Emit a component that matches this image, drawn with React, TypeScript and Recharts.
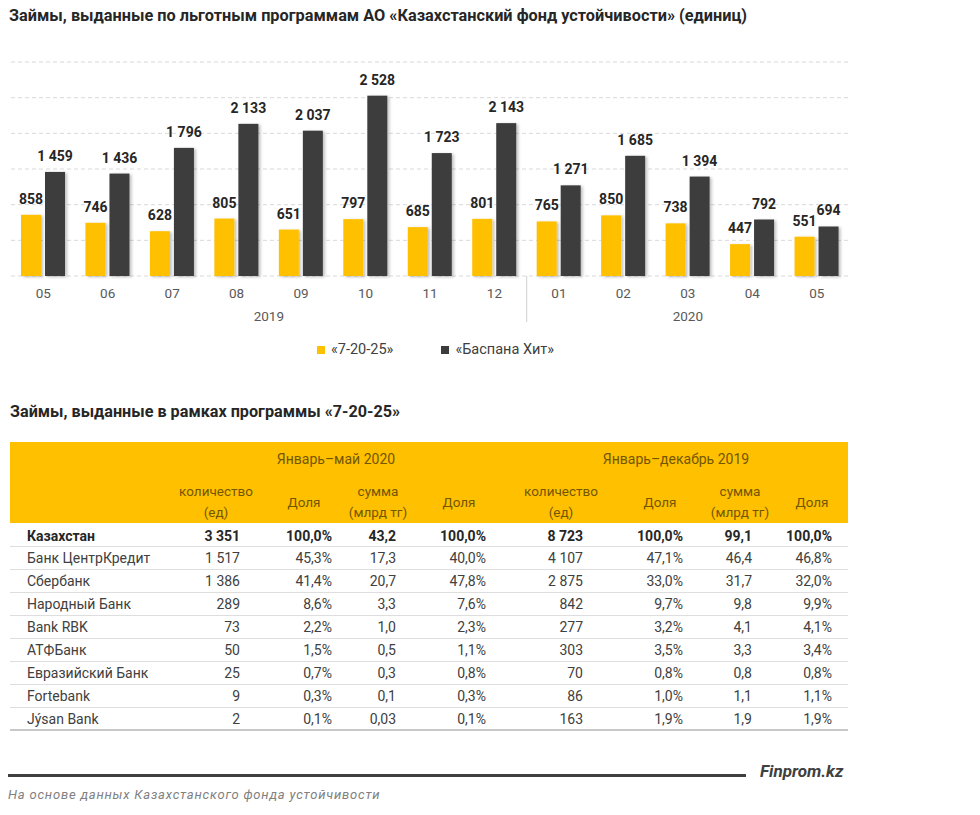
import { BarChart, Bar, XAxis, YAxis, CartesianGrid, LabelList } from "recharts";

const months = ["05", "06", "07", "08", "09", "10", "11", "12", "01", "02", "03", "04", "05"];
const monthYears = ["2019", "2019", "2019", "2019", "2019", "2019", "2019", "2019", "2020", "2020", "2020", "2020", "2020"];
const program72025 = [858, 746, 628, 805, 651, 797, 685, 801, 765, 850, 738, 447, 551];
const baspanaHit = [1459, 1436, 1796, 2133, 2037, 2528, 1723, 2143, 1271, 1685, 1394, 792, 694];
const yearGroups = [
  { year: "2019", count: 8 },
  { year: "2020", count: 5 },
];
const yTicks = [0, 500, 1000, 1500, 2000, 2500, 3000];

const series = [
  { key: "a", name: "«7-20-25»", color: "#FFC000" },
  { key: "b", name: "«Баспана Хит»", color: "#3c3c3c" },
];

// table "7-20-25"
const periods = ["Январь–май 2020", "Январь–декабрь 2019"];
const bankNames = ["Казахстан", "Банк ЦентрКредит", "Сбербанк", "Народный Банк", "Bank RBK", "АТФБанк", "Евразийский Банк", "Fortebank", "Jýsan Bank"];
const count2020 = ["3 351", "1 517", "1 386", "289", "73", "50", "25", "9", "2"];
const countShare2020 = ["100,0%", "45,3%", "41,4%", "8,6%", "2,2%", "1,5%", "0,7%", "0,3%", "0,1%"];
const sum2020 = ["43,2", "17,3", "20,7", "3,3", "1,0", "0,5", "0,3", "0,1", "0,03"];
const sumShare2020 = ["100,0%", "40,0%", "47,8%", "7,6%", "2,3%", "1,1%", "0,8%", "0,3%", "0,1%"];
const count2019 = ["8 723", "4 107", "2 875", "842", "277", "303", "70", "86", "163"];
const countShare2019 = ["100,0%", "47,1%", "33,0%", "9,7%", "3,2%", "3,5%", "0,8%", "1,0%", "1,9%"];
const sum2019 = ["99,1", "46,4", "31,7", "9,8", "4,1", "3,3", "0,8", "1,1", "1,9"];
const sumShare2019 = ["100,0%", "46,8%", "32,0%", "9,9%", "4,1%", "3,4%", "0,8%", "1,1%", "1,9%"];

const colHeaders = [
  ["количество", "(ед)"],
  ["Доля"],
  ["сумма", "(млрд тг)"],
  ["Доля"],
  ["количество", "(ед)"],
  ["Доля"],
  ["сумма", "(млрд тг)"],
  ["Доля"],
];
const colValues = [count2020, countShare2020, sum2020, sumShare2020, count2019, countShare2019, sum2019, sumShare2019];

// layout of the table columns (text right edge / header centre)
const colRight = [240, 332, 396, 486, 583, 683, 752, 832];
const colHeaderCenter = [216, 304, 378, 459, 561, 660, 740, 812];
const periodCenter = [336, 676];

const FONT = "Roboto, 'Open Sans', sans-serif";

const chartData = months.map((m, i) => ({
  key: `${monthYears[i]}-${m}`,
  a: program72025[i],
  b: baspanaHit[i],
}));

function fmt(v: any): string {
  return String(v).replace(/\B(?=(\d{3})+(?!\d))/g, " ");
}

function ShadowBar(props: any) {
  const { x, y, width, height, fill } = props;
  if (!height || height <= 0) return null;
  return <rect x={x} y={y} width={width} height={height} fill={fill} filter="url(#barShadow)" />;
}

function ValueLabel(props: any) {
  const { x, y, width, value } = props;
  return (
    <text
      x={Number(x) + Number(width) / 2}
      y={Number(y) - 11}
      textAnchor="middle"
      fill="#262626"
      fontSize={14}
      fontWeight={700}
      fontFamily={FONT}
    >
      {fmt(value)}
    </text>
  );
}

function MonthTick(props: any) {
  const { x, y, payload, index } = props;
  const half = payload?.offset || 32.2;
  const label = String(payload.value).split("-")[1];
  let start = 0;
  let group: { year: string; count: number } | null = null;
  for (const g of yearGroups) {
    if (index === start) group = g;
    start += g.count;
  }
  return (
    <g>
      <text x={x} y={y} dy={22} textAnchor="middle" fill="#595959" fontSize={13.5} fontFamily={FONT}>
        {label}
      </text>
      {group && (
        <text
          x={x - half + group.count * half}
          y={y}
          dy={45}
          textAnchor="middle"
          fill="#595959"
          fontSize={13.5}
          fontFamily={FONT}
        >
          {group.year}
        </text>
      )}
      {group && index > 0 && (
        <line x1={x - half} x2={x - half} y1={y} y2={y + 46} stroke="#d0d0d0" strokeWidth={1} />
      )}
    </g>
  );
}

export default function App() {
  return (
    <div
      style={{
        position: "absolute",
        left: 0,
        top: 0,
        width: 980,
        height: 815,
        background: "#fff",
        overflow: "hidden",
        fontFamily: FONT,
        color: "#404040",
      }}
    >
      {/* Title */}
      <div
        style={{
          position: "absolute",
          left: 9,
          top: 6,
          fontSize: 16.3,
          fontWeight: 700,
          color: "#262626",
          whiteSpace: "nowrap",
        }}
      >
        Займы, выданные по льготным программам АО «Казахстанский фонд устойчивости» (единиц)
      </div>

      {/* Chart */}
      <div style={{ position: "absolute", left: 0, top: 0 }}>
        <BarChart
          width={880}
          height={330}
          data={chartData}
          margin={{ top: 62, right: 31, bottom: 4, left: 11 }}
          barSize={20}
          barGap={4}
        >
          <defs>
            <filter id="barShadow" x="-30%" y="-10%" width="160%" height="120%">
              <feDropShadow dx="2" dy="1" stdDeviation="1.5" floodColor="#000" floodOpacity="0.25" />
            </filter>
          </defs>
          <CartesianGrid vertical={false} stroke="#d9d9d9" strokeDasharray="4 3" />
          <XAxis
            dataKey="key"
            axisLine={false}
            tickLine={false}
            tickSize={0}
            tickMargin={0}
            height={50}
            interval={0}
            tick={<MonthTick />}
          />
          <YAxis hide domain={[0, 3000]} ticks={yTicks} />
          {series.map((s) => (
            <Bar key={s.key} dataKey={s.key} name={s.name} fill={s.color} shape={<ShadowBar />} isAnimationActive={false}>
              <LabelList dataKey={s.key} content={<ValueLabel />} />
            </Bar>
          ))}
        </BarChart>
      </div>

      {/* Legend */}
      <div
        style={{
          position: "absolute",
          left: 317,
          top: 341,
          display: "flex",
          gap: 48,
          fontSize: 14.5,
          color: "#404040",
          whiteSpace: "nowrap",
        }}
      >
        {series.map((s) => (
          <div key={s.key} style={{ display: "flex", alignItems: "center", gap: 6 }}>
            <span style={{ display: "inline-block", width: 8, height: 8, background: s.color }} />
            <span>{s.name}</span>
          </div>
        ))}
      </div>

      {/* Table title */}
      <div
        style={{
          position: "absolute",
          left: 10,
          top: 402,
          fontSize: 16.2,
          fontWeight: 700,
          color: "#262626",
          whiteSpace: "nowrap",
        }}
      >
        Займы, выданные в рамках программы «7-20-25»
      </div>

      {/* Table header */}
      <div style={{ position: "absolute", left: 10, top: 442, width: 838, height: 81, background: "#FFC000" }} />
      {periods.map((p, i) => (
        <div
          key={p}
          style={{
            position: "absolute",
            left: periodCenter[i] - 100,
            top: 451,
            width: 200,
            textAlign: "center",
            fontSize: 14,
            color: "#735600",
          }}
        >
          {p}
        </div>
      ))}
      {colHeaders.map((h, i) => (
        <div
          key={i}
          style={{
            position: "absolute",
            left: colHeaderCenter[i] - 60,
            top: h.length > 1 ? 481 : 492,
            width: 120,
            textAlign: "center",
            fontSize: 13.5,
            lineHeight: "21px",
            color: "#735600",
          }}
        >
          {h.map((line) => (
            <div key={line}>{line}</div>
          ))}
        </div>
      ))}

      {/* Table rows */}
      {bankNames.map((name, r) => {
        const top = 524.5 + r * 22.9;
        const last = r === bankNames.length - 1;
        return (
          <div key={name}>
            <div
              style={{
                position: "absolute",
                left: 10,
                top,
                width: 838,
                height: 22.9,
                boxSizing: "border-box",
                borderBottom: last ? "2px solid #c8c8c8" : "1px solid #dedede",
              }}
            />
            <div
              style={{
                position: "absolute",
                left: 27,
                top: top + 3,
                fontSize: 14,
                fontWeight: r === 0 ? 700 : 400,
                color: r === 0 ? "#262626" : "#404040",
                whiteSpace: "nowrap",
              }}
            >
              {name}
            </div>
            {colValues.map((vals, c) => (
              <div
                key={c}
                style={{
                  position: "absolute",
                  left: colRight[c] - 90,
                  top: top + 3,
                  width: 90,
                  textAlign: "right",
                  fontSize: 14,
                  fontWeight: r === 0 ? 700 : 400,
                  color: r === 0 ? "#262626" : "#404040",
                }}
              >
                {vals[r]}
              </div>
            ))}
          </div>
        );
      })}

      {/* Footer */}
      <div style={{ position: "absolute", left: 8, top: 774, width: 738, height: 2.5, background: "#3f3f3f" }} />
      <div
        style={{
          position: "absolute",
          left: 760,
          top: 761,
          fontSize: 17,
          fontWeight: 700,
          fontStyle: "italic",
          color: "#404040",
        }}
      >
        Finprom.kz
      </div>
      <div
        style={{
          position: "absolute",
          left: 8,
          top: 787,
          fontSize: 13,
          letterSpacing: 0.8,
          fontStyle: "italic",
          color: "#808080",
          whiteSpace: "nowrap",
        }}
      >
        На основе данных Казахстанского фонда устойчивости
      </div>
    </div>
  );
}
